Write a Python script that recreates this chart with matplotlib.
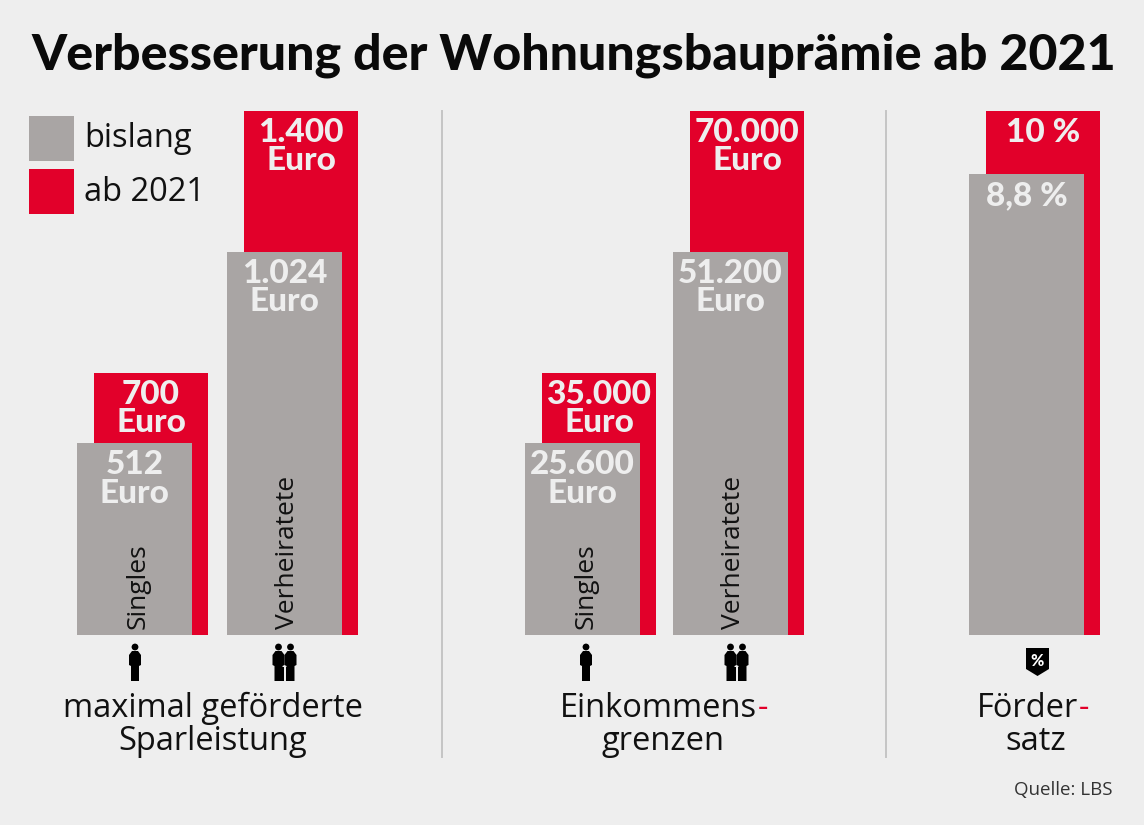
import matplotlib
matplotlib.use("Agg")
import matplotlib.pyplot as plt
from matplotlib.patches import Circle, Polygon, Rectangle

W, H = 1144, 825
BG = "#eeeeee"
GREY = "#a9a5a4"
RED = "#e2002a"
INK = "#111111"
BODY = ["Open Sans", "DejaVu Sans"]

title = "Verbesserung der Wohnungsbauprämie ab 2021"
legend_labels = ["bislang", "ab 2021"]
group_labels = ["Singles", "Verheiratete"]

spar_old = [512, 1024]
spar_new = [700, 1400]
spar_old_text = ["512\nEuro", "1.024\nEuro"]
spar_new_text = ["700\nEuro", "1.400\nEuro"]

einkommen_old = [25600, 51200]
einkommen_new = [35000, 70000]
einkommen_old_text = ["25.600\nEuro", "51.200\nEuro"]
einkommen_new_text = ["35.000\nEuro", "70.000\nEuro"]

satz_old = [8.8]
satz_new = [10]
satz_old_text = ["8,8 %"]
satz_new_text = ["10 %"]

plt.rcParams["font.family"] = ["Lato", "DejaVu Sans"]

fig = plt.figure(figsize=(W / 100, H / 100), dpi=100, facecolor=BG)

# overlay in pixel coordinates for title, icons, captions
over = fig.add_axes([0, 0, 1, 1], zorder=5)
over.set_xlim(0, W)
over.set_ylim(H, 0)
over.axis("off")
over.patch.set_alpha(0)


def panel(left, right, ymax, old, new, old_text, new_text, starts, names=None):
    ax = fig.add_axes([left / W, (H - 635) / H, (right - left) / W, 524 / H])
    ax.set_xlim(left, right)
    ax.set_ylim(0, ymax)
    ax.axis("off")
    for i, x in enumerate(starts):
        ax.bar(x + 17, new[i], width=114, align="edge", color=RED, linewidth=0)
        ax.bar(x, old[i], width=115, align="edge", color=GREY, linewidth=0)
        for cx, val, txt in [(x + 74, new[i], new_text[i]), (x + 57.5, old[i], old_text[i])]:
            ax.annotate(txt, (cx, val), xytext=(0, -5), textcoords="offset points",
                        ha="center", va="top", color=BG, fontsize=24, fontweight="black",
                        linespacing=0.98)
        if names:
            ax.annotate(names[i], (x + 61, 0), xytext=(0, 4), textcoords="offset points",
                        ha="center", va="bottom", rotation=90, color=INK, fontsize=19,
                        family=BODY)


panel(0, 442, 1400, spar_old, spar_new, spar_old_text, spar_new_text, [77, 227], group_labels)
panel(442, 886, 70000, einkommen_old, einkommen_new, einkommen_old_text, einkommen_new_text,
      [525, 673], group_labels)
panel(886, W, 10, satz_old, satz_new, satz_old_text, satz_new_text, [969])


def person(x, w=6):
    over.add_patch(Circle((x, 647), 3.4, color="black", lw=0))
    pts = [(x - w, 655), (x - w + 3, 651), (x + w - 3, 651), (x + w, 655), (x + w, 665),
           (x + w - 2, 666), (x + w - 2, 681), (x - w + 2, 681), (x - w + 2, 666), (x - w, 665)]
    over.add_patch(Polygon(pts, closed=True, color="black", lw=0))


def couple(x):
    person(x - 6)
    person(x + 6)
    over.add_patch(Polygon([(x - 4, 667), (x + 4, 667), (x + 4, 681), (x - 4, 681)], closed=True,
                           color="black", lw=0))
    over.add_patch(Rectangle((x - 1, 666), 2, 15, color=BG, lw=0, zorder=3))


person(135)
couple(284.5)
person(586)
couple(736.5)

shield = [(1026, 648), (1049, 648), (1049, 669), (1037.5, 676), (1026, 669)]
over.add_patch(Polygon(shield, closed=True, color="black", lw=0))
over.text(1037.5, 661, "%", color="white", fontsize=11.5, fontweight="black", ha="center", va="center")

for x in (442, 886):
    over.plot([x, x], [111, 757], color="#c4c4c4", lw=1.4)

over.add_patch(Rectangle((29, 116), 45, 45, color=GREY, lw=0))
over.add_patch(Rectangle((29, 169), 45, 45, color=RED, lw=0))
body = dict(fontsize=23.5, color=INK, family=BODY, va="baseline")
over.text(84, 147, legend_labels[0], **body)
over.text(84, 201, legend_labels[1], **body)

over.text(573.5, 55, title, fontsize=36.1, fontweight="black", color="#0a0a0a",
          ha="center", va="center")

over.text(213, 717, "maximal geförderte", ha="center", **body)
over.text(213, 750, "Sparleistung", ha="center", **body)


def with_red_hyphen(x_right, y, word):
    # word ends just before the hyphen, hyphen is red in the original
    over.text(x_right, y, word, ha="right", **body)
    over.text(x_right + 1, y, "-", ha="left", **{**body, "color": RED})


with_red_hyphen(757, 717, "Einkommens")
over.text(663, 750, "grenzen", ha="center", **body)
with_red_hyphen(1078, 717, "Förder")
over.text(1036, 750, "satz", ha="center", **body)

over.text(1113, 795, "Quelle: LBS", fontsize=13.5, color="#333333", family=BODY,
          ha="right", va="baseline")

fig.savefig("out.png", dpi=100, facecolor=BG)
